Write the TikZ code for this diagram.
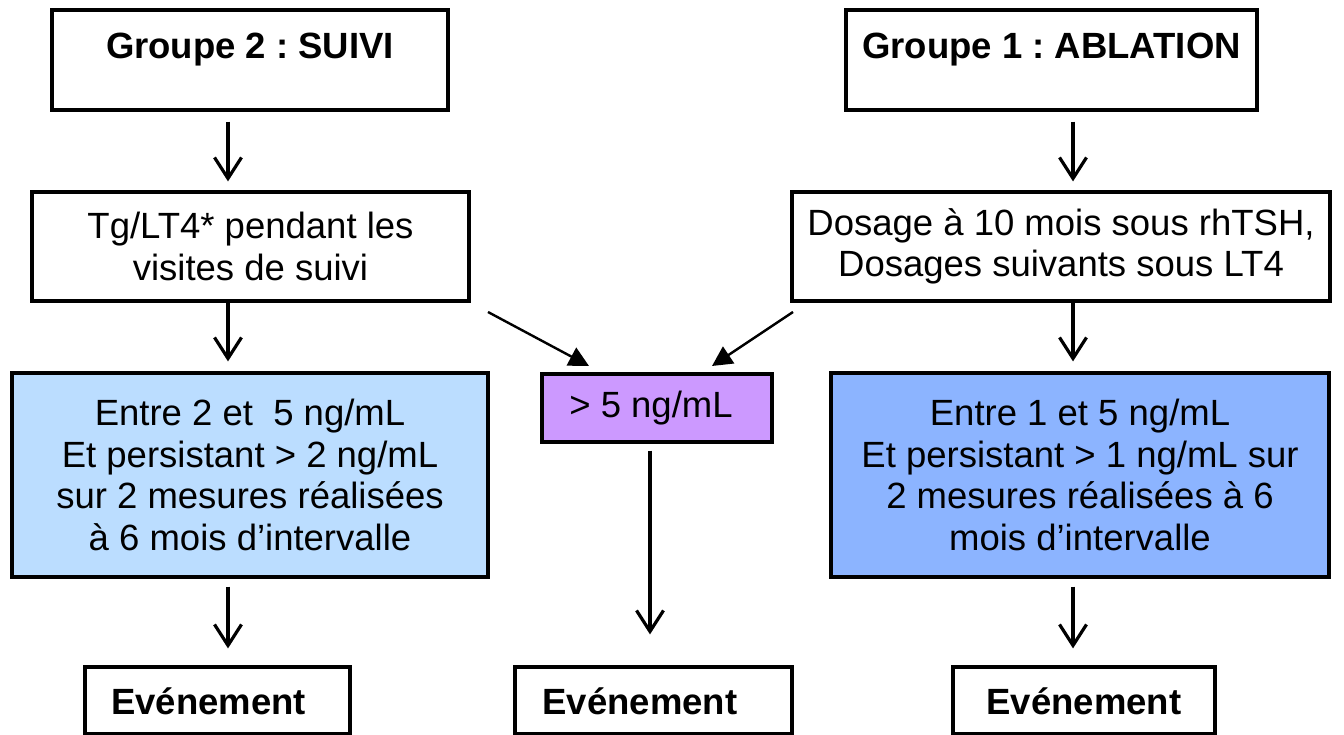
\documentclass[tikz,border=0pt]{standalone}
\usepackage{fontspec}
\setmainfont{Liberation Sans}
\usetikzlibrary{arrows.meta}
\definecolor{lblue}{HTML}{BBDDFF}
\definecolor{dblue}{HTML}{8CB4FF}
\definecolor{lpurple}{HTML}{CC99FF}
\frenchspacing
\begin{document}
\begin{tikzpicture}[x=1pt,y=-1pt,
  box/.style={draw=black, line width=3.2pt, inner sep=0pt, align=center,
    font=\fontsize{36.5}{41.5}\selectfont},
  titlebox/.style={box, font=\fontsize{36.5}{41.5}\selectfont\bfseries,
    text height=26pt, text depth=28pt},
  evbox/.style={box, font=\fontsize{36.5}{41.5}\selectfont\bfseries,
    text height=27pt, text depth=0pt, minimum height=67pt},
  varrow/.style={line width=3.2pt, -{Straight Barb[length=21pt,width=27pt]}},
  darrow/.style={line width=2.4pt, -{Triangle[length=20pt,width=20pt]}}]
\useasboundingbox (0,0) rectangle (1344,735);

% top boxes
\node[titlebox, minimum width=396pt, minimum height=100pt] (g2) at (250,60) {Groupe 2 : SUIVI};
\node[titlebox, minimum width=411pt, minimum height=100pt] (g1) at (1051.5,60) {Groupe 1 : ABLATION};

% second row
\node[box, minimum width=437pt, minimum height=109pt] (tg) at (250.5,246.5)
  {Tg/LT4* pendant les\\visites de suivi};
\node[box, minimum width=538pt, minimum height=109pt] (dos) at (1061,246.5)
  {Dosage à 10 mois sous rhTSH,\\Dosages suivants sous LT4};

% third row
\node[box, fill=lblue, minimum width=476pt, minimum height=204pt] (bl) at (250,475)
  {Entre 2 et \ 5 ng/mL\\Et persistant > 2 ng/mL\\sur 2 mesures réalisées\\à 6 mois d’intervalle};
\node[box, fill=lpurple, minimum width=230pt, minimum height=68pt] (pur) at (657,408)
  {> 5 ng/mL\hspace{12pt}};
\node[box, fill=dblue, minimum width=498pt, minimum height=204pt] (br) at (1080,475)
  {Entre 1 et 5 ng/mL\\Et persistant > 1 ng/mL sur\\2 mesures réalisées à 6\\mois d’intervalle};

% bottom row
\node[evbox, minimum width=265pt] (evl) at (217.5,700.5) {Evénement\hspace{18pt}};
\node[evbox, minimum width=277pt] (evm) at (653.5,700.5) {Evénement\hspace{27pt}};
\node[evbox, minimum width=262pt] (evr) at (1084,700.5) {Evénement};

% arrow columns
\coordinate (cL) at (228,0);
\coordinate (cR) at (1073,0);
\coordinate (cM) at (650,0);

\draw[varrow, shorten <=10pt, shorten >=9pt] (g2.south -| cL) -- (tg.north -| cL);
\draw[varrow, shorten >=10pt] (tg.south -| cL) -- (bl.north -| cL);
\draw[varrow, shorten <=8pt, shorten >=17pt] (bl.south -| cL) -- (evl.north -| cL);

\draw[varrow, shorten <=10pt, shorten >=9pt] (g1.south -| cR) -- (dos.north -| cR);
\draw[varrow, shorten >=10pt] (dos.south -| cR) -- (br.north -| cR);
\draw[varrow, shorten <=8pt, shorten >=17pt] (br.south -| cR) -- (evr.north -| cR);

\draw[varrow, shorten <=7pt, shorten >=31pt] (pur.south -| cM) -- (evm.north -| cM);

% diagonal arrows
\coordinate (dls) at (488,312);
\coordinate (dlt) at (589,366);
\coordinate (drs) at (793,312);
\coordinate (drt) at (712,366);
\draw[darrow] (dls) -- (dlt);
\draw[darrow] (drs) -- (drt);
\end{tikzpicture}
\end{document}
